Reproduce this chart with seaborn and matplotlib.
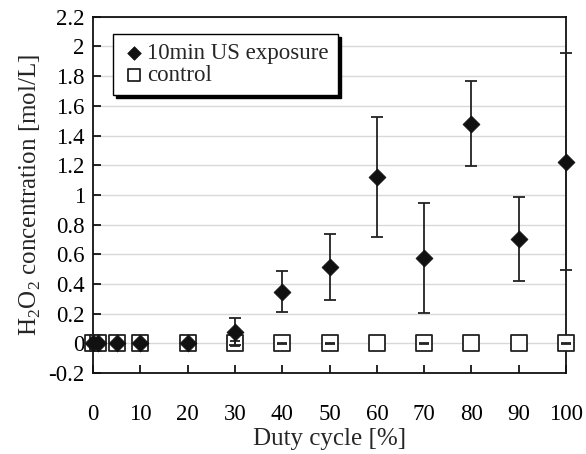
import numpy as np
import pandas as pd
import matplotlib
matplotlib.use("Agg")
import matplotlib.pyplot as plt
from matplotlib.ticker import FuncFormatter, MultipleLocator
import seaborn as sns

# duty cycle [%]
duty = [0, 1, 5, 10, 20, 30, 40, 50, 60, 70, 80, 90, 100]
# H2O2 after 10 min US exposure [mol/L] and standard deviation
us_mean = [0, 0, 0, 0, 0, 0.08, 0.35, 0.515, 1.12, 0.575, 1.48, 0.705, 1.225]
us_sd = [0, 0, 0, 0, 0, 0.09, 0.14, 0.22, 0.405, 0.368, 0.287, 0.282, 0.73]
# control
ctrl_mean = [0] * 13
ctrl_sd = [0, 0, 0, 0, 0, 0.02, 0.003, 0.003, 0, 0.003, 0, 0, 0.003]

df = pd.DataFrame({"duty": duty, "us": us_mean, "us_sd": us_sd,
                   "ctrl": ctrl_mean, "ctrl_sd": ctrl_sd})

sns.set_style("ticks")
plt.rcParams["font.family"] = ["Liberation Serif", "DejaVu Serif"]
plt.rcParams["mathtext.fontset"] = "custom"
plt.rcParams["mathtext.rm"] = "Liberation Serif"

fig = plt.figure(figsize=(5.86, 4.54), dpi=100)
ax = fig.add_axes([0.159, 0.178, 0.807, 0.785])

ax.set_xlim(0, 100)
ax.set_ylim(-0.2, 2.2)
ax.yaxis.set_major_locator(MultipleLocator(0.2))
ax.xaxis.set_major_locator(MultipleLocator(10))
ax.yaxis.grid(True, color="#d9d9d9", lw=1.0, zorder=0)
ax.set_axisbelow(True)

# control: white squares, its tiny error bars drawn on top
sns.scatterplot(data=df, x="duty", y="ctrl", ax=ax, marker="s", s=120,
                facecolor="white", edgecolor="#222222", linewidth=1.3,
                label="control", zorder=3, clip_on=False)
has_err = df[df["ctrl_sd"] > 0]
ax.errorbar(has_err["duty"], has_err["ctrl"], yerr=has_err["ctrl_sd"],
            fmt="none", ecolor="#222222", elinewidth=1.2, capsize=3.5,
            capthick=1.3, zorder=4, clip_on=False)

# US exposure: black diamonds with error bars
us_err = df[df["us_sd"] > 0]
ax.errorbar(us_err["duty"], us_err["us"], yerr=us_err["us_sd"], fmt="none",
            ecolor="#222222", elinewidth=1.3, capsize=4, capthick=1.3,
            zorder=5, clip_on=False)
sns.scatterplot(data=df, x="duty", y="us", ax=ax, marker="D", s=75,
                color="#111111", edgecolor="#111111", linewidth=0.5,
                label="10min US exposure", zorder=6, clip_on=False)

ax.yaxis.set_major_formatter(FuncFormatter(lambda v, p: f"{v:g}"))
ax.tick_params(axis="both", direction="in", length=6, width=1.2,
               colors="black", labelsize=16.5)
ax.tick_params(axis="x", pad=22)
ax.tick_params(axis="y", pad=6)
for sp in ax.spines.values():
    sp.set_color("#111111")
    sp.set_linewidth(1.3)

ax.set_xlabel("Duty cycle [%]", fontsize=18, labelpad=2)
ax.set_ylabel(r"H$_2$O$_2$ concentration [mol/L]", fontsize=18, labelpad=4)

handles, labels = ax.get_legend_handles_labels()
order = [labels.index("10min US exposure"), labels.index("control")]
leg = ax.legend([handles[i] for i in order], [labels[i] for i in order],
                loc="upper left", bbox_to_anchor=(0.042, 0.952),
                fancybox=False, edgecolor="black", framealpha=1,
                shadow={"color": "black", "alpha": 1}, fontsize=16.5,
                handletextpad=0.1, handlelength=1.0, borderpad=0.4,
                labelspacing=0.05, borderaxespad=0, markerscale=0.8)
leg.get_frame().set_linewidth(1.0)

fig.savefig("out.png", dpi=100)
